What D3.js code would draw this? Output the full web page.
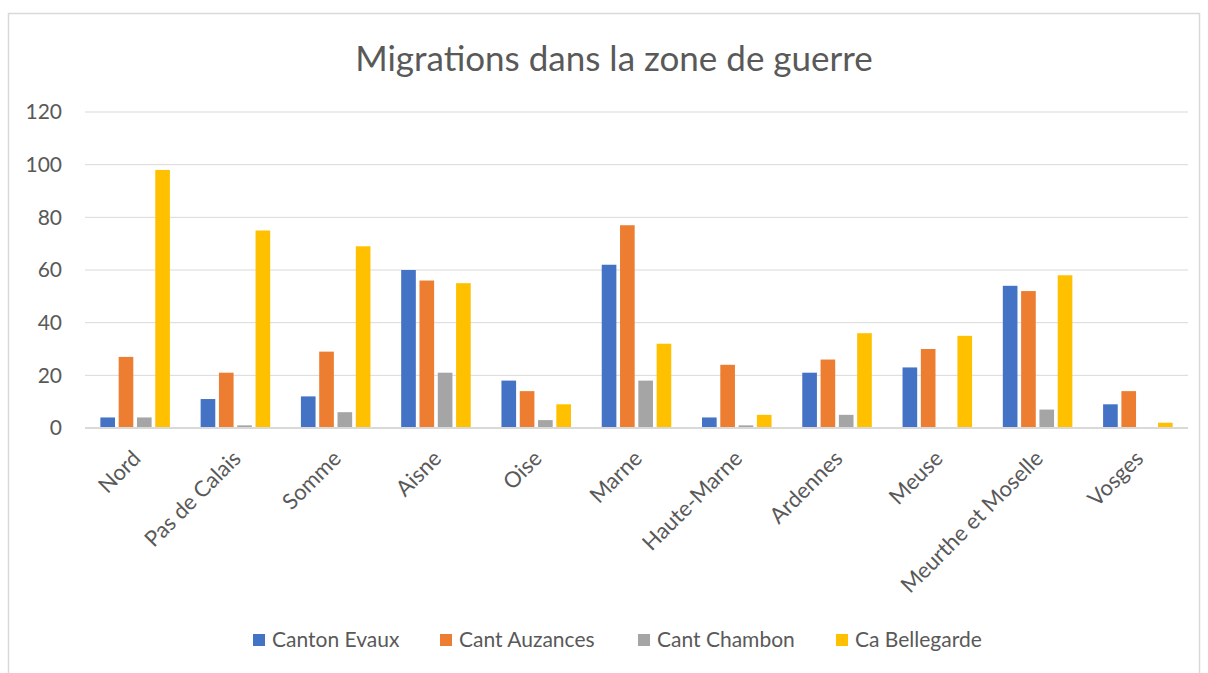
<!DOCTYPE html>
<html>
<head>
<meta charset="utf-8">
<script src="https://cdn.jsdelivr.net/npm/d3@7"></script>
<style>
  body { margin: 0; background: #fff; }
  text { font-family: Lato, "Liberation Sans", sans-serif; fill: #595959; }
</style>
</head>
<body>
<div id="viz"></div>
<script>
// chart data
const departements = ["Nord", "Pas de Calais", "Somme", "Aisne", "Oise", "Marne",
  "Haute-Marne", "Ardennes", "Meuse", "Meurthe et Moselle", "Vosges"];
const seriesNames = ["Canton Evaux", "Cant Auzances", "Cant Chambon", "Ca Bellegarde"];
const cantonEvaux   = [4, 11, 12, 60, 18, 62, 4, 21, 23, 54, 9];
const cantAuzances  = [27, 21, 29, 56, 14, 77, 24, 26, 30, 52, 14];
const cantChambon   = [4, 1, 6, 21, 3, 18, 1, 5, 0, 7, 0];
const caBellegarde  = [98, 75, 69, 55, 9, 32, 5, 36, 35, 58, 2];
const yTicks = [0, 20, 40, 60, 80, 100, 120];

const colors = ["#4472c4", "#ed7d31", "#a5a5a5", "#ffc000"];
const allSeries = [cantonEvaux, cantAuzances, cantChambon, caBellegarde];

const w = 1208, h = 673;
const plotLeft = 85, plotRight = 1188, plotTop = 112, plotBottom = 428;

const svg = d3.select("#viz").append("svg")
  .attr("width", w)
  .attr("height", h);

// outer frame
svg.append("rect")
  .attr("x", 8.5).attr("y", 13.5)
  .attr("width", 1191).attr("height", 672)
  .attr("fill", "none")
  .attr("stroke", "#d9d9d9")
  .attr("stroke-width", 1.5);

svg.append("text")
  .attr("x", 614).attr("y", 71)
  .attr("text-anchor", "middle")
  .style("font-size", "35px")
  .text("Migrations dans la zone de guerre");

const x0 = d3.scaleBand().domain(departements).range([plotLeft, plotRight])
  .paddingInner(0.27).paddingOuter(0.135);
const x1 = d3.scaleBand().domain(d3.range(4)).range([0, x0.bandwidth()])
  .paddingInner(0.2).paddingOuter(0.1);
const y = d3.scaleLinear().domain([0, 120]).range([plotBottom, plotTop]);

// gridlines
svg.append("g").selectAll("line")
  .data(yTicks.filter(d => d > 0))
  .enter().append("line")
  .attr("x1", plotLeft).attr("x2", plotRight)
  .attr("y1", d => y(d)).attr("y2", d => y(d))
  .attr("stroke", "#d9d9d9").attr("stroke-width", 1);

svg.append("g").selectAll("text")
  .data(yTicks)
  .enter().append("text")
  .attr("x", 62).attr("y", d => y(d))
  .attr("text-anchor", "end")
  .attr("dy", "0.35em")
  .style("font-size", "21px")
  .text(d => d);

// bars
const groups = svg.append("g").selectAll("g")
  .data(departements)
  .enter().append("g")
  .attr("transform", d => "translate(" + x0(d) + ",0)");

groups.selectAll("rect")
  .data((d, i) => allSeries.map((s, k) => ({ k: k, v: s[i] })))
  .enter().append("rect")
  .attr("x", d => x1(d.k))
  .attr("width", x1.bandwidth())
  .attr("y", d => y(d.v))
  .attr("height", d => plotBottom - y(d.v))
  .attr("fill", d => colors[d.k]);

// zero axis
svg.append("line")
  .attr("x1", plotLeft).attr("x2", plotRight)
  .attr("y1", plotBottom).attr("y2", plotBottom)
  .attr("stroke", "#d9d9d9").attr("stroke-width", 2);

// category labels
svg.append("g").selectAll("text")
  .data(departements)
  .enter().append("text")
  .attr("transform", d => "translate(" + (x0(d) + x0.bandwidth() / 2 - 4) + "," + (plotBottom + 21) + ") rotate(-45)")
  .attr("text-anchor", "end")
  .attr("dy", "0.7em")
  .style("font-size", "22px")
  .text(d => d);

// legend
const legendX = [253, 440, 638, 836];
const legend = svg.append("g").selectAll("g")
  .data(seriesNames)
  .enter().append("g")
  .attr("transform", (d, i) => "translate(" + legendX[i] + ",634)");
legend.append("rect")
  .attr("width", 12).attr("height", 12)
  .attr("fill", (d, i) => colors[i]);
legend.append("text")
  .attr("x", 19).attr("y", 6)
  .attr("dy", "0.35em")
  .style("font-size", "21px")
  .text(d => d);
</script>
</body>
</html>
